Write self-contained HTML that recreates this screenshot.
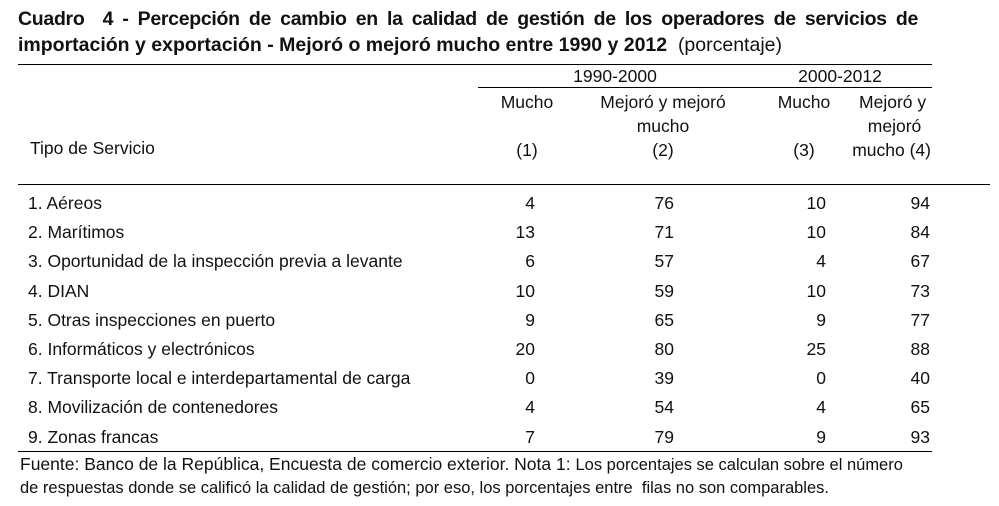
<!DOCTYPE html>
<html><head><meta charset="utf-8"><style>
body{margin:0;width:999px;height:506px;background:#fff;font-family:"Liberation Sans",sans-serif;color:#111;position:relative;overflow:hidden}
.a{position:absolute;white-space:nowrap}
.t{font-weight:bold;font-size:19.5px}
.h{font-size:17.5px}
.r{font-size:17.5px}
.ln{position:absolute;height:1px;background:#000}
.c{transform:translateX(-50%);text-align:center}
</style></head><body>
<div class="a t" style="left:18px;top:8px;width:900px;text-align:justify;text-align-last:justify;white-space:normal;letter-spacing:-0.3px">Cuadro &nbsp;4 - Percepción de cambio en la calidad de gestión de los operadores de servicios de</div>
<div class="a t" style="left:18px;top:34px;letter-spacing:0px">importación y exportación - Mejoró o mejoró mucho entre 1990 y 2012 &nbsp;<span style="font-weight:normal">(porcentaje)</span></div>
<div class="ln" style="left:18px;top:64px;width:914px"></div>
<div class="a h c" style="left:615px;top:66px">1990-2000</div>
<div class="a h c" style="left:840px;top:66px">2000-2012</div>
<div class="ln" style="left:478px;top:87px;width:454px"></div>
<div class="a h c" style="left:527px;top:90px;line-height:24px">Mucho<br><br>(1)</div>
<div class="a h c" style="left:663px;top:90px;line-height:24px">Mejoró y mejoró<br>mucho<br>(2)</div>
<div class="a h c" style="left:804px;top:90px;line-height:24px">Mucho<br><br>(3)</div>
<div class="a h" style="right:68px;top:90px;line-height:24px;text-align:right">Mejoró y&nbsp;<br>mejoró&nbsp;&nbsp;<br>mucho (4)</div>
<div class="a h" style="left:30px;top:138px">Tipo de Servicio</div>
<div class="ln" style="left:18px;top:184px;width:972px"></div>
<div id="rows"></div>
<div class="ln" style="left:18px;top:451px;width:914px"></div>
<div class="a h" style="left:20px;top:453px;line-height:22px">Fuente: Banco de la República, Encuesta de comercio exterior. Nota 1: <span style="font-size:16.5px">Los porcentajes se calculan sobre el número</span><br><span style="font-size:16.5px">de respuestas donde se calificó la calidad de gestión; por eso, los porcentajes entre &nbsp;filas no son comparables.</span></div>
<script>
const services=["1. Aéreos","2. Marítimos","3. Oportunidad de la inspección previa a levante","4. DIAN","5. Otras inspecciones en puerto","6. Informáticos y electrónicos","7. Transporte local e interdepartamental de carga","8. Movilización de contenedores","9. Zonas francas"];
const col1=[4,13,6,10,9,20,0,4,7];
const col2=[76,71,57,59,65,80,39,54,79];
const col3=[10,10,4,10,9,25,0,4,9];
const col4=[94,84,67,73,77,88,40,65,93];
const root=document.getElementById('rows');
function cell(txt,style,name){const d=document.createElement('div');d.className='a r';d.style.cssText=style;d.textContent=txt;


root.appendChild(d);}
services.forEach((s,i)=>{const top=193+i*29.2;
cell(s,`left:28px;top:${top}px`,'row-label');
cell(col1[i],`right:${999-535}px;top:${top}px`,'value-col1');
cell(col2[i],`right:${999-674}px;top:${top}px`,'value-col2');
cell(col3[i],`right:${999-826}px;top:${top}px`,'value-col3');
cell(col4[i],`right:${999-930}px;top:${top}px`,'value-col4');});
</script>
</body></html>
